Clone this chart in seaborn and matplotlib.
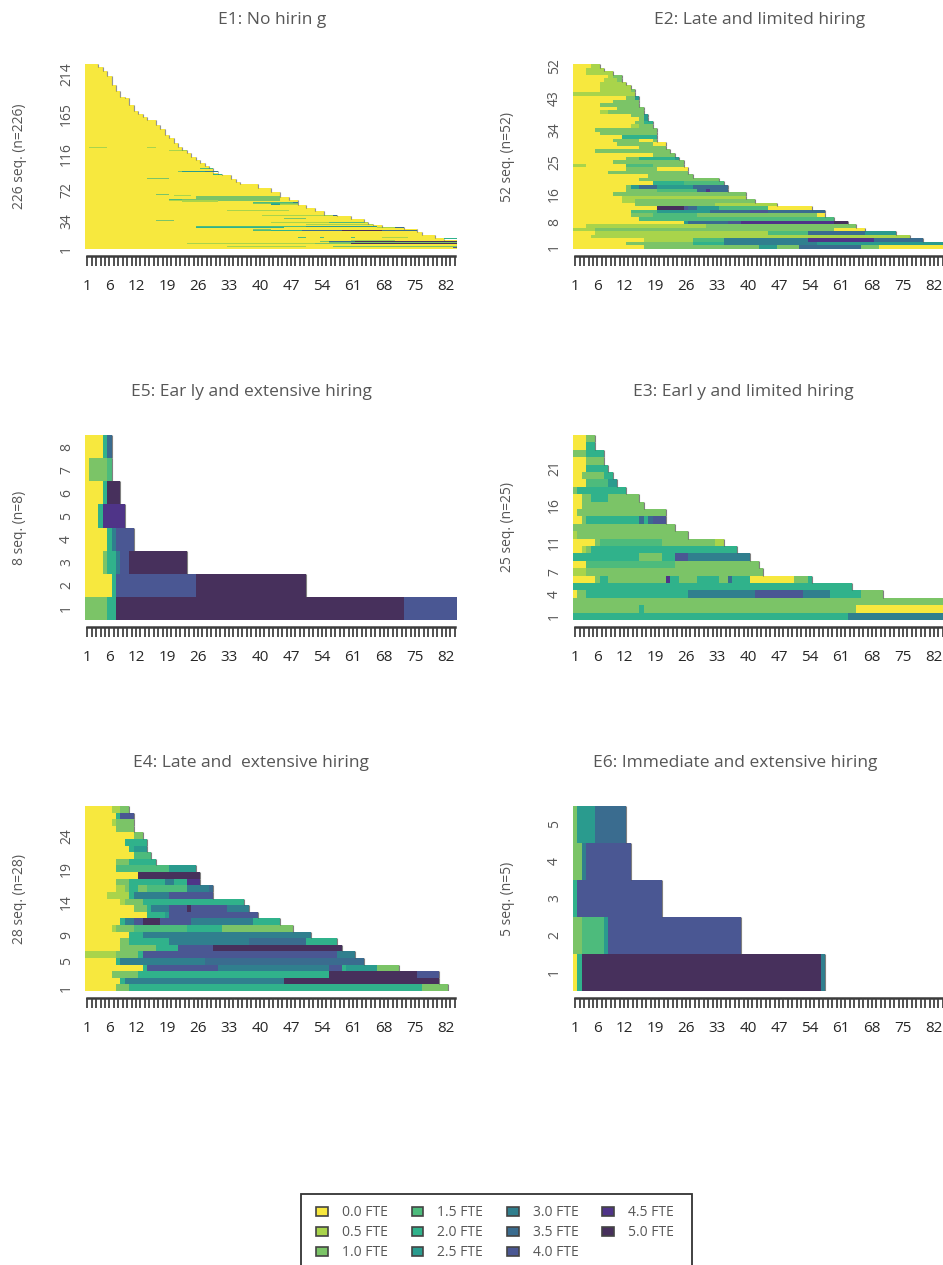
"""Sequence index plots of FTE hiring trajectories, six employer clusters."""

import numpy as np
import matplotlib
matplotlib.use('Agg')
import matplotlib.pyplot as plt
from matplotlib.colors import ListedColormap
from matplotlib.patches import Patch, Rectangle
import seaborn as sns

# Legend states, index in the run lists below
state_labels = ['0.0 FTE', '0.5 FTE', '1.0 FTE', '1.5 FTE', '2.0 FTE', '2.5 FTE',
                '3.0 FTE', '3.5 FTE', '4.0 FTE', '4.5 FTE', '5.0 FTE']
state_colors = ['#F7E83E', '#A9D44B', '#7BC467', '#4DBB7C', '#30B28B', '#2A9B8E',
                '#307F8E', '#3A6C8F', '#4A5793', '#4F3488', '#47305C']

n_months = 84
month_labels = {1: '1', 6: '6', 12: '12', 19: '19', 26: '26', 33: '33', 40: '40',
                47: '47', 54: '54', 61: '61', 68: '68', 75: '75', 82: '82'}

# E1 is too big to list row by row: top row of each block with the block's length,
# everything yellow, then the few rows that leave 0.0 FTE
e1_block_tops = [11, 13, 17, 21, 25, 27, 29, 33, 37, 40, 42, 46, 50, 54, 60, 64, 70, 74,
                 79, 82, 86, 90, 93, 99, 101, 105, 109, 113, 117, 121, 125, 129, 135,
                 139, 147, 151, 157, 161, 165, 169, 176, 185, 186, 193, 200, 211, 218,
                 222, 226]
e1_lengths = [84, 81, 79, 76, 75, 72, 67, 64, 63, 60, 57, 54, 52, 50, 48, 46, 44, 42,
              39, 35, 34, 33, 30, 29, 28, 27, 26, 25, 24, 23, 22, 21, 20,
              19, 18, 17, 16, 14, 13, 12, 11, 10, 9, 8, 7, 6, 5,
              4, 3]
# (row, state, first month edge, last month edge)
e1_changes = [
    (124, 1, 1, 5), (124, 1, 14, 16), (121, 1, 19, 23), (99, 3, 26, 29),
    (95, 2, 21, 22), (95, 5, 22, 27), (95, 6, 27, 30), (92, 4, 29, 31), (87, 2, 14, 19),
    (67, 2, 16, 19), (66, 1, 20, 24), (65, 2, 25, 44), (64, 2, 25, 44), (63, 2, 25, 44),
    (62, 2, 25, 44), (61, 3, 19, 22), (61, 2, 22, 44), (60, 1, 19, 30), (60, 2, 30, 44),
    (59, 1, 22, 30),
    (57, 3, 38, 47), (57, 6, 47, 48), (56, 2, 38, 42), (56, 4, 42, 44), (56, 2, 44, 48),
    (55, 5, 42, 44), (55, 1, 44, 48), (48, 1, 32, 46), (41, 1, 40, 56), (41, 7, 56, 57),
    (38, 2, 45, 50), (36, 3, 42, 50), (36, 8, 50, 63), (35, 2, 16, 20),
    (33, 1, 42, 55), (33, 3, 55, 63), (33, 1, 63, 64), (30, 1, 50, 65),
    (28, 3, 25, 50), (28, 5, 50, 66), (27, 4, 25, 45), (27, 1, 66, 70), (27, 7, 70, 72),
    (24, 2, 38, 42), (23, 3, 38, 42), (23, 4, 42, 49), (23, 7, 49, 58), (23, 10, 58, 67),
    (23, 7, 67, 75), (15, 3, 48, 50), (15, 3, 53, 54), (15, 3, 60, 61), (15, 1, 67, 73),
    (13, 4, 81, 84), (11, 1, 60, 70), (10, 2, 53, 55), (10, 7, 55, 61), (10, 10, 61, 84),
    (9, 2, 52, 58), (9, 7, 58, 84), (8, 2, 55, 84), (7, 1, 23, 52), (7, 2, 52, 60),
    (7, 10, 60, 84), (4, 1, 32, 50), (4, 2, 56, 84), (2, 8, 83, 84),
]

# The other panels: one list of (state, stop month) runs per row, row 1 first
e2_runs = [
    [(0, 16), (2, 42), (5, 46), (2, 51), (7, 65), (2, 69), (0, 84)],
    [(0, 12), (2, 27), (4, 34), (6, 55), (5, 84)],
    [(0, 16), (1, 27), (3, 34), (6, 53), (9, 68), (7, 79)],
    [(0, 4), (1, 76)],
    [(0, 5), (1, 44), (3, 53), (7, 66), (5, 73)],
    [(1, 5), (2, 59), (0, 66)],
    [(0, 3), (1, 30), (2, 64)],
    [(0, 25), (5, 26), (7, 35), (8, 38), (9, 59), (10, 62)],
    [(0, 15), (3, 59)],
    [(0, 13), (2, 18), (3, 28), (2, 55), (0, 57)],
    [(0, 13), (3, 19), (5, 31), (7, 40), (8, 44), (7, 57)],
    [(0, 19), (10, 25), (8, 26), (7, 28), (5, 33), (3, 44), (0, 54)],
    [(0, 14), (2, 32), (1, 46)],
    [(0, 11), (1, 14), (2, 41)],
    [(0, 11), (1, 39)],
    [(0, 9), (2, 39)],
    [(0, 12), (2, 19), (3, 28), (7, 30), (9, 31), (7, 35)],
    [(0, 12), (2, 13), (5, 15), (7, 19), (5, 27), (7, 35)],
    [(0, 18), (4, 25), (3, 34)],
    [(0, 15), (2, 33)],
    [(0, 17), (2, 27)],
    [(0, 8), (2, 26)],
    [(0, 12), (2, 19), (0, 26)],
    [(1, 3), (0, 12), (3, 18), (2, 25)],
    [(0, 9), (2, 25)],
    [(0, 12), (2, 15), (4, 23), (5, 24)],
    [(0, 18), (2, 23)],
    [(0, 5), (2, 22)],
    [(0, 15), (2, 21)],
    [(0, 10), (2, 18), (0, 21)],
    [(0, 9), (2, 15), (0, 18), (2, 19)],
    [(0, 11), (4, 19)],
    [(0, 6), (2, 19)],
    [(0, 5), (2, 19)],
    [(0, 13), (1, 15), (2, 18)],
    [(0, 14), (2, 16), (4, 18)],
    [(0, 15), (2, 16), (5, 17)],
    [(0, 13), (2, 16), (5, 17)],
    [(0, 6), (1, 8), (2, 16)],
    [(0, 10), (2, 16)],
    [(0, 6), (2, 15)],
    [(0, 9), (2, 15)],
    [(0, 12), (2, 14), (5, 15)],
    [(1, 14)],
    [(0, 6), (1, 13), (2, 14)],
    [(0, 6), (1, 13)],
    [(0, 6), (1, 12)],
    [(0, 7), (1, 10), (2, 11)],
    [(0, 8), (1, 9), (2, 11)],
    [(0, 3), (1, 9)],
    [(0, 3), (1, 7)],
    [(0, 4), (1, 6)],
]
e3_runs = [
    [(4, 62), (6, 84)],
    [(2, 15), (4, 16), (2, 64), (0, 84)],
    [(2, 84)],
    [(0, 1), (2, 3), (4, 26), (6, 41), (8, 52), (6, 58), (4, 65), (2, 70)],
    [(4, 63)],
    [(0, 5), (2, 6), (4, 8), (2, 21), (9, 22), (4, 24), (2, 28), (4, 33), (2, 35),
     (7, 36), (4, 40), (0, 50), (2, 53), (4, 54)],
    [(1, 3), (2, 43)],
    [(0, 3), (3, 23), (2, 42)],
    [(4, 15), (2, 20), (4, 23), (8, 26), (6, 40)],
    [(0, 2), (1, 3), (2, 4), (4, 37)],
    [(0, 5), (2, 6), (3, 20), (2, 32), (1, 34)],
    [(1, 1), (2, 26)],
    [(2, 23)],
    [(0, 2), (2, 3), (4, 15), (7, 16), (4, 17), (7, 18), (8, 21)],
    [(0, 1), (2, 21)],
    [(0, 2), (2, 16)],
    [(0, 2), (2, 4), (4, 8), (2, 15)],
    [(2, 1), (4, 12)],
    [(0, 3), (3, 8), (5, 10)],
    [(0, 2), (2, 7), (4, 9)],
    [(0, 3), (4, 8)],
    [(0, 3), (2, 7)],
    [(2, 3), (4, 7)],
    [(0, 3), (4, 5)],
    [(0, 3), (2, 5)],
]
e4_runs = [
    [(0, 7), (2, 10), (4, 76), (2, 82)],
    [(0, 8), (4, 9), (6, 45), (10, 80)],
    [(0, 6), (2, 12), (4, 55), (10, 75), (8, 80)],
    [(0, 13), (4, 14), (8, 30), (6, 55), (8, 58), (4, 59), (5, 66), (2, 71)],
    [(0, 7), (4, 8), (6, 27), (7, 63)],
    [(1, 7), (2, 12), (4, 13), (8, 57), (6, 61)],
    [(0, 8), (2, 16), (4, 21), (8, 29), (10, 58)],
    [(0, 8), (2, 10), (4, 19), (6, 37), (7, 50), (4, 57)],
    [(0, 10), (4, 13), (6, 51)],
    [(0, 6), (1, 7), (2, 11), (3, 23), (4, 31), (2, 47)],
    [(0, 8), (4, 9), (6, 11), (8, 13), (10, 17), (8, 24), (6, 38), (4, 44)],
    [(0, 14), (4, 18), (5, 19), (8, 39)],
    [(0, 11), (2, 14), (4, 15), (6, 19), (8, 23), (10, 24), (8, 32), (6, 37)],
    [(0, 8), (1, 9), (2, 13), (4, 36)],
    [(0, 5), (1, 10), (4, 11), (6, 19), (8, 29)],
    [(0, 7), (1, 9), (2, 10), (4, 12), (2, 14), (3, 23), (6, 28), (7, 29)],
    [(0, 7), (2, 10), (4, 18), (6, 20), (4, 23), (9, 26)],
    [(0, 12), (10, 26)],
    [(0, 7), (3, 19), (5, 25)],
    [(0, 7), (2, 10), (4, 16)],
    [(0, 11), (3, 15)],
    [(0, 10), (4, 11), (5, 14)],
    [(0, 9), (4, 14)],
    [(0, 11), (2, 13)],
    [(0, 7), (2, 11)],
    [(0, 6), (1, 7), (2, 11)],
    [(0, 7), (4, 8), (8, 11)],
    [(0, 6), (1, 8), (2, 10)],
]
e5_runs = [
    [(2, 5), (4, 7), (10, 72), (8, 84)],
    [(0, 6), (4, 7), (8, 25), (10, 50)],
    [(0, 4), (2, 5), (4, 7), (6, 8), (8, 10), (10, 23)],
    [(0, 5), (4, 6), (6, 7), (8, 11)],
    [(0, 3), (4, 4), (9, 9)],
    [(0, 4), (4, 5), (10, 8)],
    [(0, 1), (2, 5), (3, 6)],
    [(0, 4), (4, 5), (7, 6)],
]
e6_runs = [
    [(0, 1), (4, 2), (10, 56), (6, 57)],
    [(2, 2), (3, 7), (5, 8), (8, 38)],
    [(4, 1), (8, 20)],
    [(2, 2), (6, 3), (8, 13)],
    [(2, 1), (5, 5), (7, 12)],
]

e1_ticks = [1, 34, 72, 116, 165, 214]
e2_ticks = [1, 8, 16, 25, 34, 43, 52]
e3_ticks = [1, 4, 7, 11, 16, 21]
e4_ticks = [1, 5, 9, 14, 19, 24]
e5_ticks = [1, 2, 3, 4, 5, 6, 7, 8]
e6_ticks = [1, 2, 3, 4, 5]

FIG_W, FIG_H = 943, 1265
TEXT_COLOR = '#565656'
AXIS_COLOR = '#3c3c3c'

sns.set_theme(style='white')
plt.rcParams['font.family'] = ['Open Sans', 'DejaVu Sans']


def matrix_from_runs(runs):
    """Expand (state, stop) runs into a rows x months matrix, NaN after the end."""
    matrix = np.full((len(runs), n_months), np.nan)
    for row, row_runs in enumerate(runs):
        start = 0
        for state, stop in row_runs:
            matrix[row, start:stop] = state
            start = stop
    return matrix


def matrix_from_blocks(block_tops, lengths, changes):
    """E1: all 0.0 FTE up to each block's length, then apply the listed changes."""
    matrix = np.full((block_tops[-1], n_months), np.nan)
    first = 0
    for top, length in zip(block_tops, lengths):
        matrix[first:top, :length] = 0
        first = top
    for row, state, start, stop in changes:
        matrix[row - 1, start:stop] = state
    return matrix


def px_axes(left, top, right, bottom):
    return fig.add_axes([left / FIG_W, 1 - bottom / FIG_H,
                         (right - left) / FIG_W, (bottom - top) / FIG_H])


def draw_panel(box, matrix, y_ticks, ylabel, cmap):
    ax = px_axes(*box)
    sns.heatmap(matrix, ax=ax, cmap=cmap, vmin=-0.5, vmax=10.5, cbar=False,
                xticklabels=False, yticklabels=False)
    ax.invert_yaxis()

    # thin dark end of each sequence
    ends = np.sum(~np.isnan(matrix), axis=1)
    ax.vlines(ends, np.arange(len(ends)), np.arange(len(ends)) + 1,
              color='#4a4a4a', linewidth=0.8, alpha=0.7)

    ax.set_xticks(np.arange(n_months) + 0.5)
    ax.set_xticklabels([month_labels.get(m + 1, '') for m in range(n_months)],
                       rotation=0, fontsize=10, color=TEXT_COLOR)
    ax.tick_params(axis='x', length=7, width=1.25, color=AXIS_COLOR, pad=9.5, bottom=True)

    ax.set_yticks(np.array(y_ticks) - 0.5)
    ax.set_yticklabels(y_ticks, rotation=90, va='center', fontsize=10, color=TEXT_COLOR)
    ax.tick_params(axis='y', length=0, pad=8)

    ax.set_ylabel(ylabel, fontsize=10, color=TEXT_COLOR)
    ax.yaxis.set_label_coords(-58 / (box[2] - box[0]), 0.5)
    ax.set_xlabel('')

    for side in ['top', 'left', 'right']:
        ax.spines[side].set_visible(False)
    ax.spines['bottom'].set_visible(True)
    ax.spines['bottom'].set_position(('outward', 5))
    ax.spines['bottom'].set_bounds(0.5, n_months - 0.5)
    ax.spines['bottom'].set_color(AXIS_COLOR)
    ax.spines['bottom'].set_linewidth(1.8)
    return ax


fig = plt.figure(figsize=(FIG_W / 100, FIG_H / 100), dpi=100)
cmap = ListedColormap(state_colors)

panels = [
    ((85, 64, 457, 249), matrix_from_blocks(e1_block_tops, e1_lengths, e1_changes),
     e1_ticks, '226 seq. (n=226)', 'E1: No hirin g', 272, 20),
    ((573, 64, 945, 249), matrix_from_runs(e2_runs),
     e2_ticks, '52 seq. (n=52)', 'E2: Late and limited hiring', 760, 20),
    ((85, 435, 457, 620), matrix_from_runs(e5_runs),
     e5_ticks, '8 seq. (n=8)', 'E5: Ear ly and extensive hiring', 251, 392),
    ((573, 435, 945, 620), matrix_from_runs(e3_runs),
     e3_ticks, '25 seq. (n=25)', 'E3: Earl y and limited hiring', 743, 392),
    ((85, 806, 457, 991), matrix_from_runs(e4_runs),
     e4_ticks, '28 seq. (n=28)', 'E4: Late and  extensive hiring', 251, 763),
    ((573, 806, 945, 991), matrix_from_runs(e6_runs),
     e6_ticks, '5 seq. (n=5)', 'E6: Immediate and extensive hiring', 735, 763),
]

for box, matrix, y_ticks, ylabel, title, title_x, title_y in panels:
    draw_panel(box, matrix, y_ticks, ylabel, cmap)
    fig.text(title_x / FIG_W, 1 - title_y / FIG_H, title, ha='center', va='center',
             fontsize=12.5, color=TEXT_COLOR)

# Legend box runs to the bottom of the page
fig.add_artist(Rectangle((301 / FIG_W, 1 - 1266 / FIG_H), 391 / FIG_W, 72 / FIG_H,
                         transform=fig.transFigure, facecolor='white',
                         edgecolor='#333333', linewidth=1.3))
handles = [Patch(facecolor=c, edgecolor='#444444', linewidth=1.2, label=l)
           for c, l in zip(state_colors, state_labels)]
fig.legend(handles=handles, ncol=4, frameon=False, loc='center',
           bbox_to_anchor=(495 / FIG_W, 1 - 1233 / FIG_H),
           fontsize=10, labelcolor=TEXT_COLOR, handlelength=0.86, handleheight=0.65,
           handletextpad=1.0, columnspacing=1.7, labelspacing=0.36)

fig.savefig('out.png', dpi=100)
